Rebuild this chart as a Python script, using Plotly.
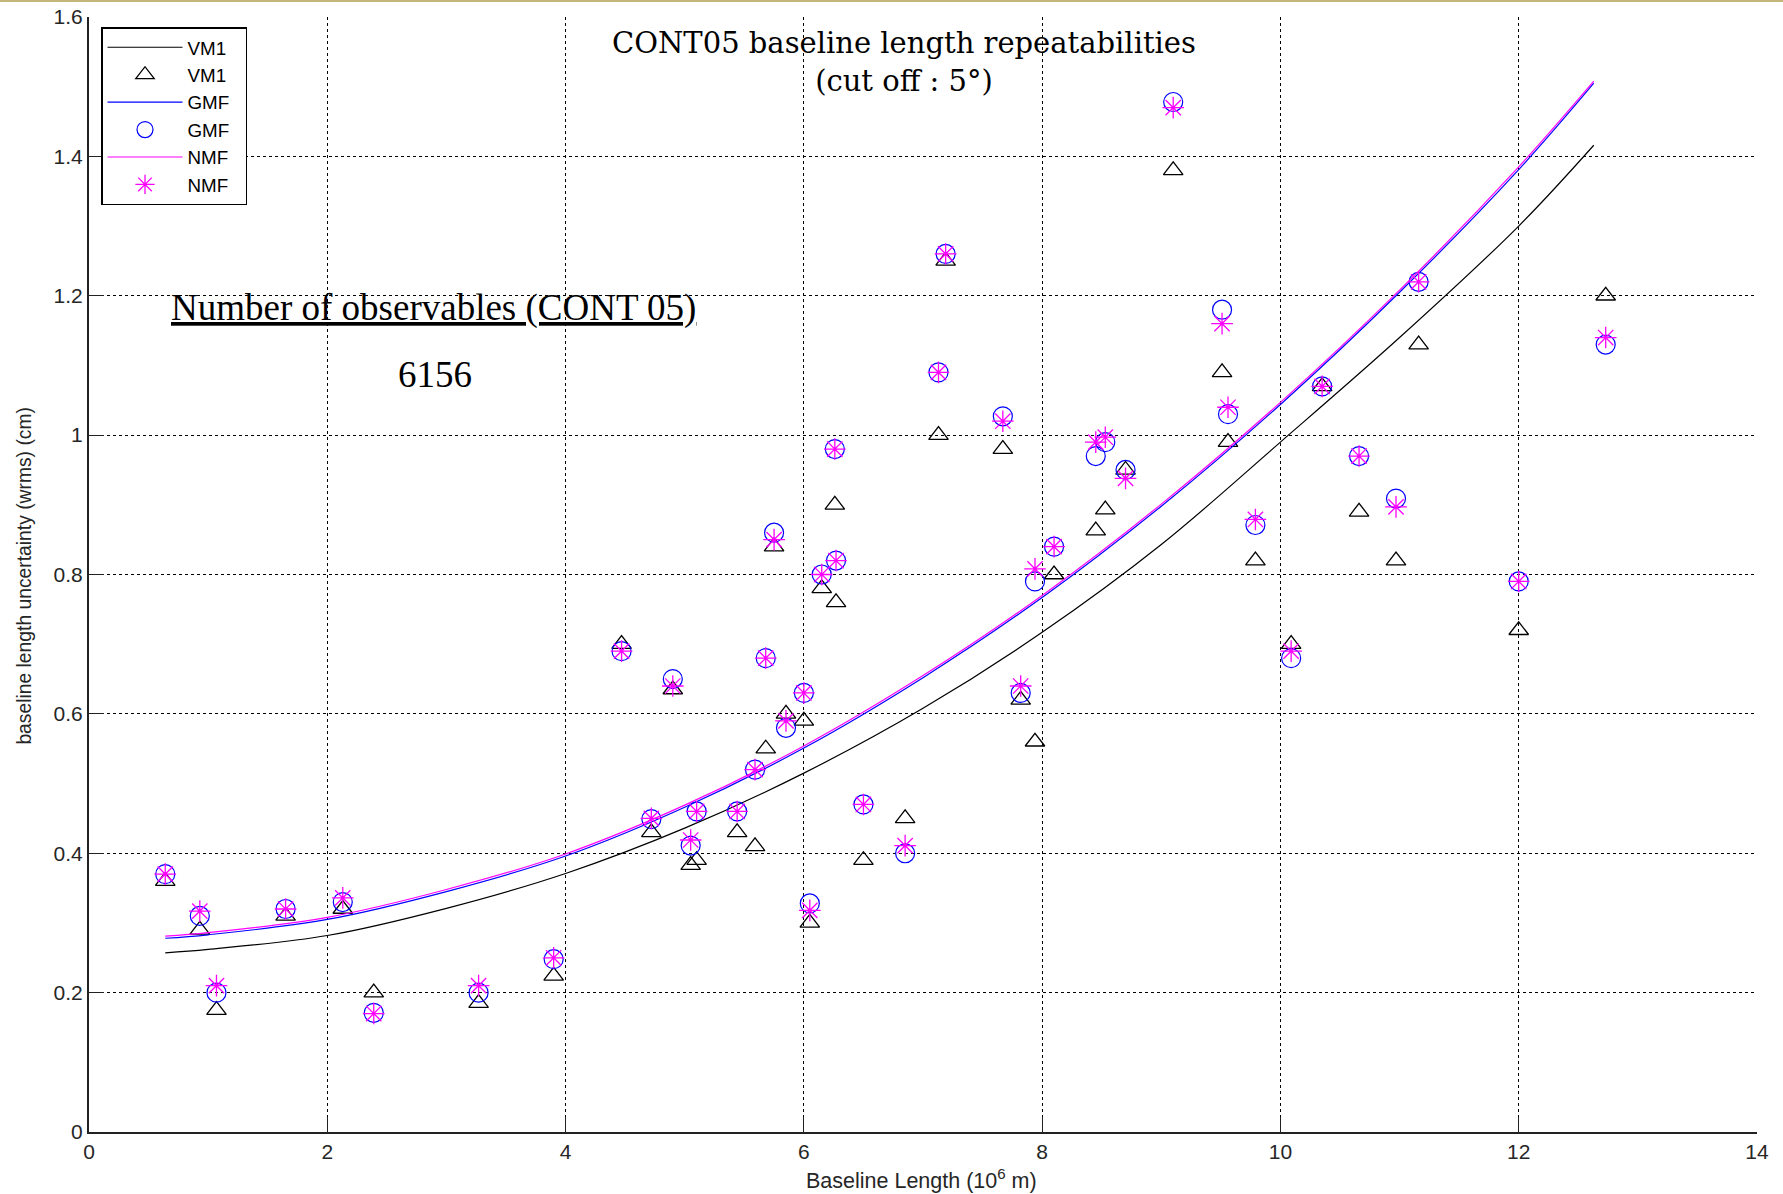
import plotly.graph_objects as go

# ---- data ----
baseline_x = [0.64, 0.93, 1.07, 1.65, 2.13, 2.39, 3.27, 3.90, 4.47, 4.72,
              4.90, 5.05, 5.10, 5.44, 5.59, 5.68, 5.75, 5.85, 6.00, 6.05,
              6.15, 6.26, 6.27, 6.50, 6.85, 7.13, 7.19, 7.67, 7.82, 7.94,
              8.10, 8.45, 8.53, 8.70, 9.10, 9.51, 9.56, 9.79, 10.09, 10.35,
              10.66, 10.97, 11.16, 12.00, 12.73]
vm1_pts = [0.36, 0.29, 0.175, 0.31, 0.32, 0.20, 0.185, 0.224, 0.70, 0.43,
           0.635, 0.383, 0.39, 0.43, 0.41, 0.55, 0.84, 0.60, 0.59, 0.30,
           0.78, 0.90, 0.76, 0.39, 0.45, 1.00, 1.25, 0.98, 0.62, 0.56,
           0.80, 0.863, 0.893, 0.95, 1.38, 1.09, 0.99, 0.82, 0.70, 1.07,
           0.89, 0.82, 1.13, 0.72, 1.20]
gmf_pts = [0.37, 0.31, 0.20, 0.32, 0.33, 0.171, 0.20, 0.248, 0.69, 0.449,
           0.65, 0.411, 0.46, 0.46, 0.52, 0.68, 0.86, 0.58, 0.63, 0.328,
           0.80, 0.98, 0.82, 0.47, 0.40, 1.09, 1.26, 1.027, 0.63, 0.79,
           0.84, 0.97, 0.99, 0.95, 1.478, 1.18, 1.03, 0.871, 0.68, 1.07,
           0.97, 0.909, 1.22, 0.79, 1.13]
nmf_pts = [0.37, 0.317, 0.21, 0.32, 0.336, 0.17, 0.21, 0.25, 0.69, 0.45,
           0.64, 0.419, 0.46, 0.46, 0.52, 0.68, 0.85, 0.59, 0.63, 0.318,
           0.80, 0.98, 0.82, 0.47, 0.411, 1.09, 1.26, 1.02, 0.64, 0.808,
           0.84, 0.99, 0.997, 0.938, 1.47, 1.16, 1.04, 0.879, 0.69, 1.07,
           0.97, 0.897, 1.22, 0.79, 1.14]

fit_x = [0.64, 1, 2, 3, 4, 5, 6, 7, 8, 9, 10, 11, 12, 12.63]
vm1_fit = [0.257, 0.262, 0.282, 0.321, 0.371, 0.436, 0.515, 0.608, 0.717,
           0.843, 0.99, 1.14, 1.30, 1.416]
gmf_fit = [0.278, 0.283, 0.305, 0.345, 0.396, 0.466, 0.551, 0.652, 0.767,
           0.898, 1.044, 1.205, 1.381, 1.505]
nmf_fit = [0.281, 0.286, 0.308, 0.348, 0.399, 0.469, 0.554, 0.655, 0.770,
           0.901, 1.047, 1.208, 1.385, 1.508]

x_ticks = [0, 2, 4, 6, 8, 10, 12, 14]
y_ticks = [0, 0.2, 0.4, 0.6, 0.8, 1, 1.2, 1.4, 1.6]
y_tick_labels = ["0", "0.2", "0.4", "0.6", "0.8", "1", "1.2", "1.4", "1.6"]

BLACK = "#000000"
BLUE = "#0000ff"
MAGENTA = "#ff00ff"
SANS = "Liberation Sans, Arial, Helvetica, sans-serif"
SERIF = "Liberation Serif, Times New Roman, serif"
PAD = "\u00a0\u00a0"  # keeps the legend box as wide as the reference's

fig = go.Figure()
fig.add_trace(go.Scatter(x=fit_x, y=vm1_fit, mode="lines", name="VM1" + PAD,
                         line=dict(color=BLACK, width=1.2, shape="spline")))
fig.add_trace(go.Scatter(x=baseline_x, y=vm1_pts, mode="markers", name="VM1" + PAD,
                         marker=dict(symbol="triangle-up-open", size=17,
                                     color=BLACK, line=dict(color=BLACK, width=1.3))))
fig.add_trace(go.Scatter(x=fit_x, y=gmf_fit, mode="lines", name="GMF" + PAD,
                         line=dict(color=BLUE, width=1.2, shape="spline")))
fig.add_trace(go.Scatter(x=baseline_x, y=gmf_pts, mode="markers", name="GMF" + PAD,
                         marker=dict(symbol="circle-open", size=19,
                                     color=BLUE, line=dict(color=BLUE, width=1.2))))
fig.add_trace(go.Scatter(x=fit_x, y=nmf_fit, mode="lines", name="NMF" + PAD,
                         line=dict(color=MAGENTA, width=1.2, shape="spline")))
fig.add_trace(go.Scatter(x=baseline_x, y=nmf_pts, mode="markers", name="NMF" + PAD,
                         marker=dict(symbol="asterisk-open", size=18,
                                     color=MAGENTA, line=dict(color=MAGENTA, width=1.3))))

tick_font = dict(family=SANS, size=21, color="#262626")

common_axis = dict(showgrid=True, gridcolor=BLACK, gridwidth=1, griddash="3px,3px",
                   showline=True, linecolor="#222222", linewidth=2,
                   ticks="inside", ticklen=15, tickcolor="#222222", tickwidth=1.2,
                   tickfont=tick_font, zeroline=False, mirror=False, automargin=False)
fig.update_xaxes(range=[0, 14], tickvals=x_ticks, ticktext=[str(v) for v in x_ticks],
                 **common_axis)
fig.update_yaxes(range=[0, 1.6], tickvals=y_ticks, ticktext=y_tick_labels,
                 **common_axis)

annotations = [
    dict(text="CONT05 baseline length repeatabilities<br>(cut off : 5°)",
         xref="paper", yref="paper", x=0.4888, y=0.9600, xanchor="center", yanchor="middle",
         showarrow=False, font=dict(family="DejaVu Serif, serif", size=29, color=BLACK)),
    dict(text="<u>Number of observables (CONT 05)</u>",
         xref="paper", yref="paper", x=0.0481, y=0.7390, xanchor="left", yanchor="middle",
         showarrow=False, font=dict(family=SERIF, size=37, color=BLACK)),
    dict(text="6156",
         xref="paper", yref="paper", x=0.2076, y=0.6790, xanchor="center", yanchor="middle",
         showarrow=False, font=dict(family=SERIF, size=37, color=BLACK)),
    dict(text="baseline length uncertainty (wrms) (cm)",
         xref="paper", yref="paper", x=0, xshift=-64, y=0.499, xanchor="center", yanchor="middle",
         textangle=-90, showarrow=False,
         font=dict(family=SANS, size=19.3, color="#262626")),
    dict(text="Baseline Length (10<sup>6</sup> m)",
         xref="paper", yref="paper", x=0.499, y=-0.0426, xanchor="center", yanchor="middle",
         showarrow=False,
         font=dict(family=SANS, size=21.5, color="#262626")),
]

shapes = [
    dict(type="line", xref="paper", yref="paper", x0=-0.06, x1=1.02, y0=1.0144, y1=1.0144,
         line=dict(color="#c4b67a", width=2)),
]

fig.update_layout(
    width=1783, height=1194,
    margin=dict(l=89, r=26, t=17, b=62, autoexpand=False),
    paper_bgcolor="white", plot_bgcolor="white",
    showlegend=True,
    legend=dict(x=0.0072, y=0.991, xanchor="left", yanchor="top",
                bgcolor="white", bordercolor=BLACK, borderwidth=1.5,
                font=dict(family=SANS, size=18.8, color=BLACK),
                itemwidth=75, tracegroupgap=0),
    annotations=annotations,
    shapes=shapes,
)

fig.write_html("out.html")
